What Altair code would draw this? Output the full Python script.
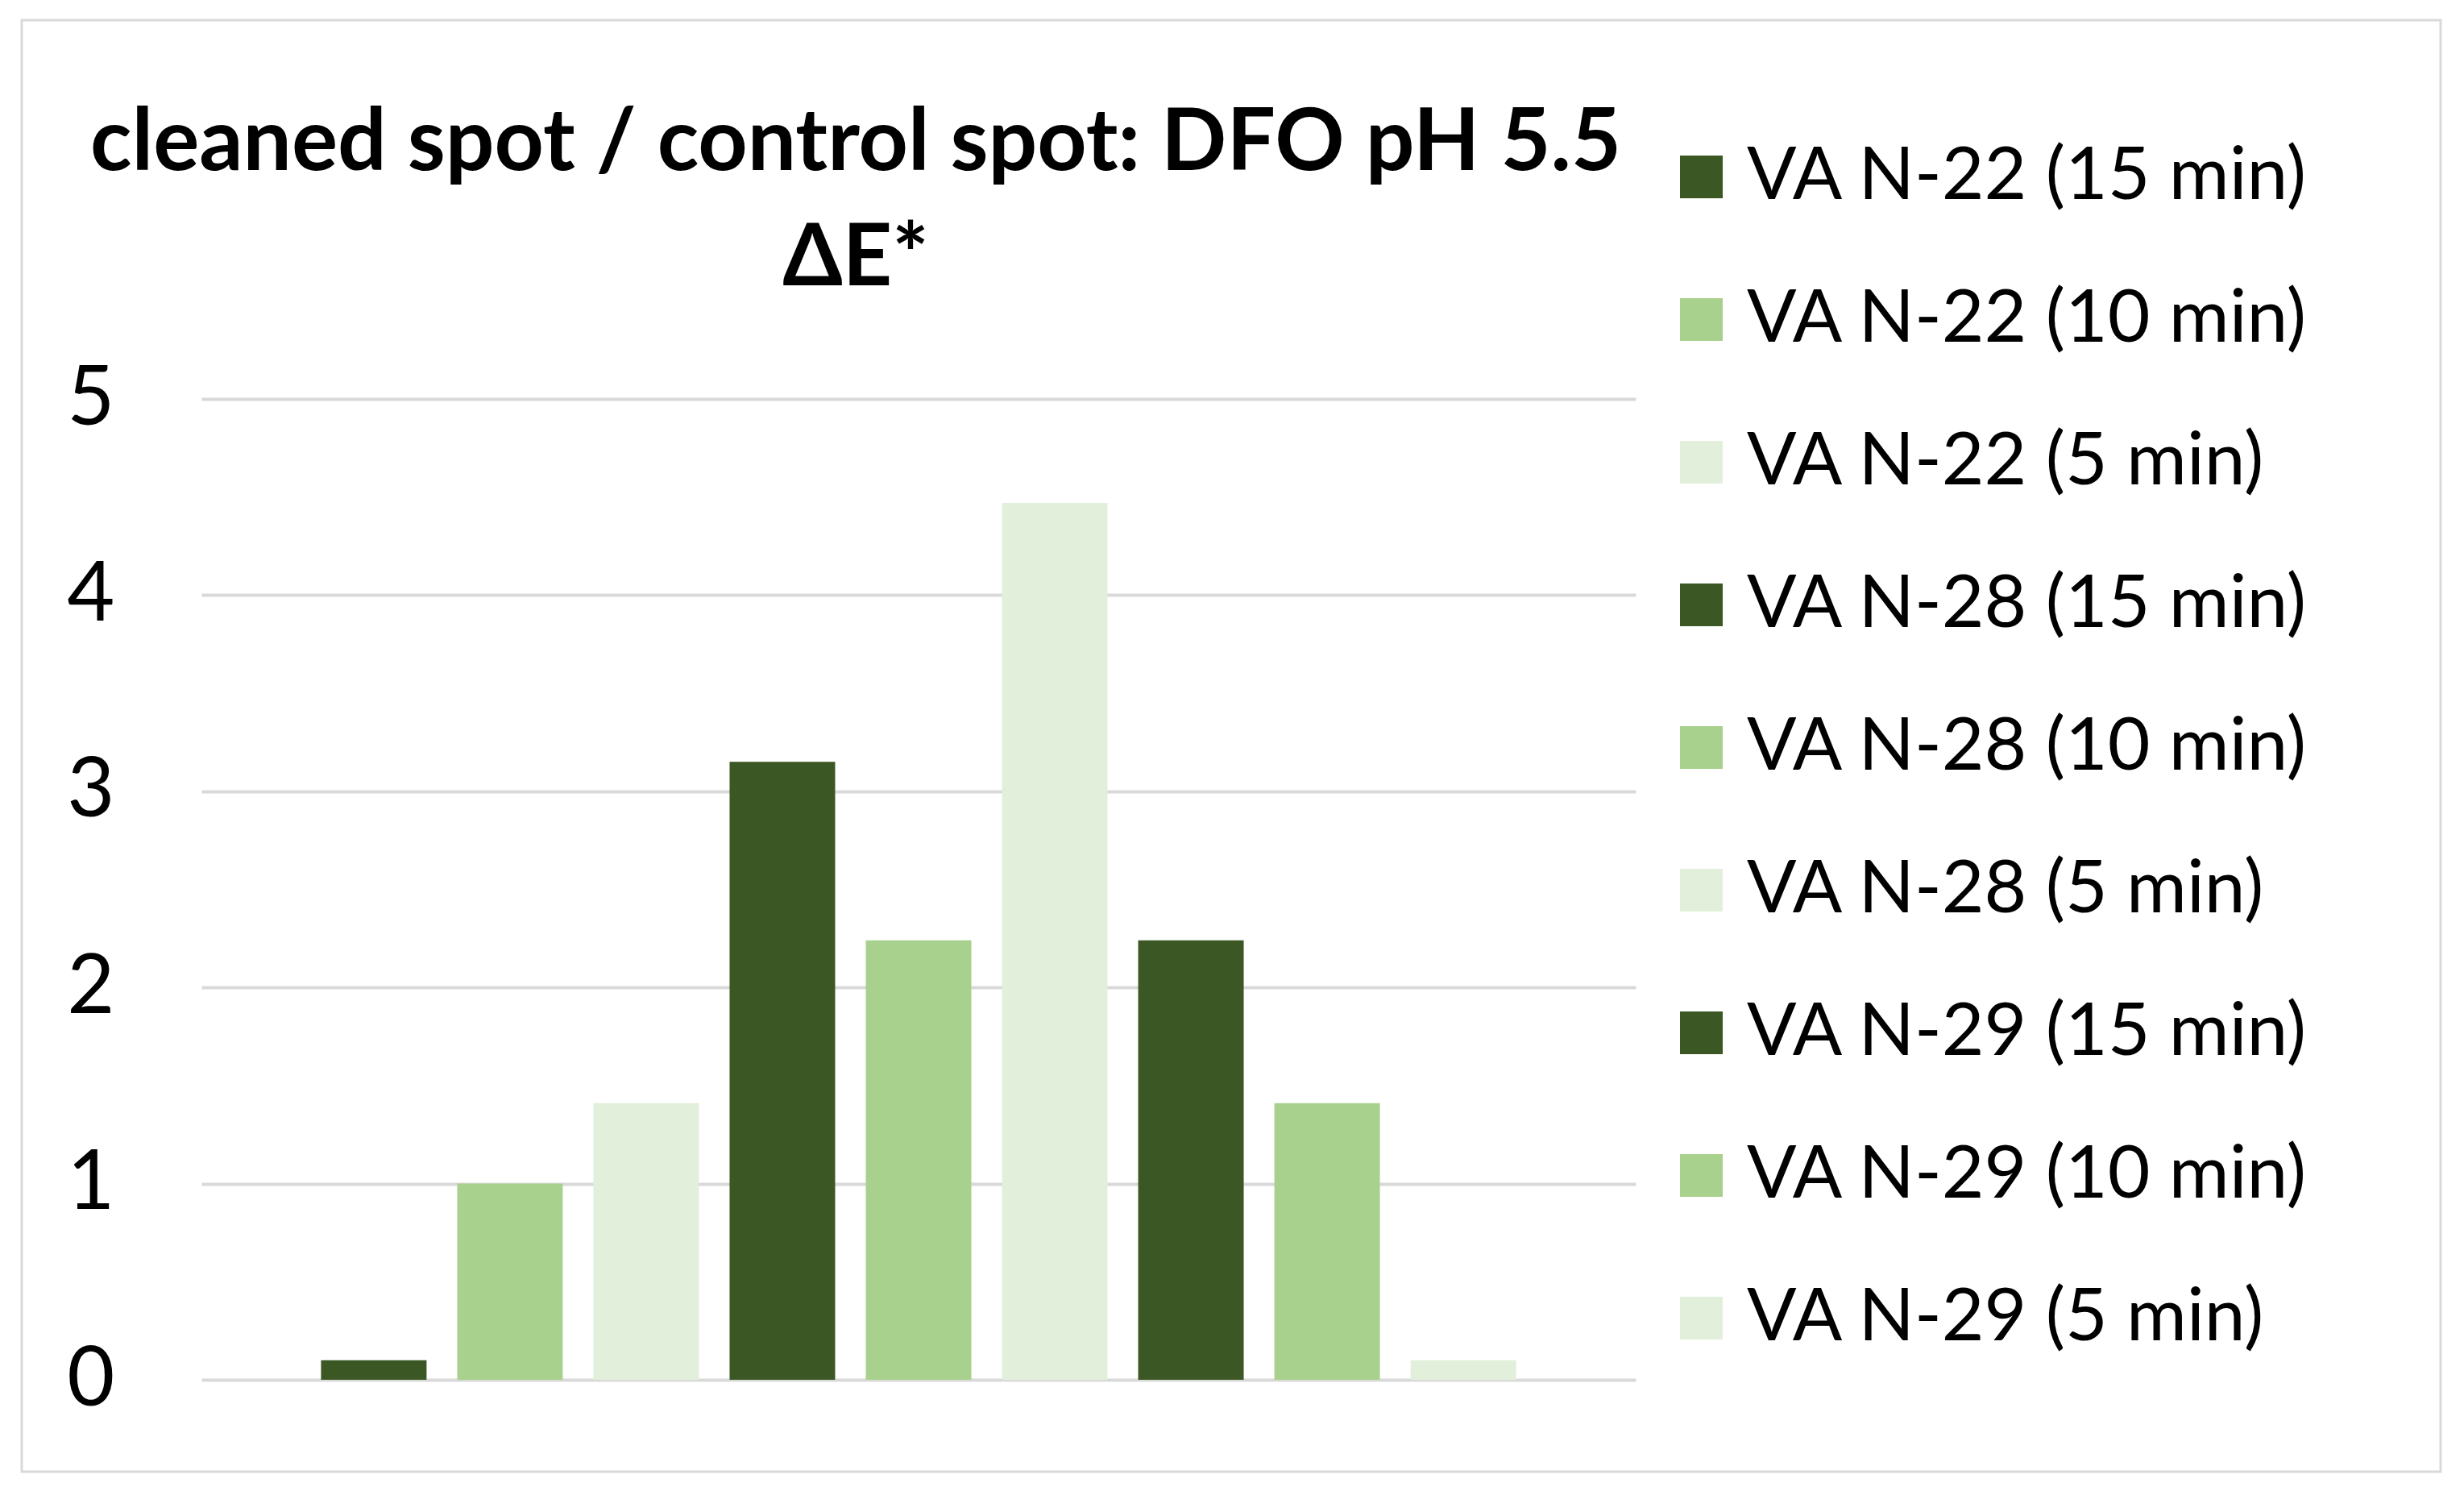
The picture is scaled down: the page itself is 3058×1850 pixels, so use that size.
import altair as alt
import pandas as pd

# ---- data ----
series = ["VA N-22 (15 min)", "VA N-22 (10 min)", "VA N-22 (5 min)",
          "VA N-28 (15 min)", "VA N-28 (10 min)", "VA N-28 (5 min)",
          "VA N-29 (15 min)", "VA N-29 (10 min)", "VA N-29 (5 min)"]
values = [0.1, 1.0, 1.41, 3.15, 2.24, 4.47, 2.24, 1.41, 0.1]
colors = ["#3b5723", "#a9d18e", "#e2efda",
          "#3b5723", "#a9d18e", "#e2efda",
          "#3b5723", "#a9d18e", "#e2efda"]
title_lines = ["cleaned spot / control spot: DFO pH 5.5", "ΔE*"]
y_ticks = [0, 1, 2, 3, 4, 5]

df = pd.DataFrame({"series": series, "value": values})

W, H = 1780, 1217
PAD_L, PAD_T = 242, 487
PAD_R = 3042 - PAD_L - W
PAD_B = 1834 - PAD_T - H
FONT = "Lato"

bars = alt.Chart(df).mark_bar().encode(
    x=alt.X("series:N", sort=series,
            scale=alt.Scale(paddingInner=0.225, paddingOuter=0.878),
            axis=None),
    y=alt.Y("value:Q",
            scale=alt.Scale(domain=[0, 5], nice=False),
            axis=alt.Axis(values=y_ticks, title=None, domain=False, ticks=False,
                          labelFontSize=102, labelFont=FONT, labelColor="#000000",
                          labelPadding=108, grid=True, gridColor="#d9d9d9",
                          gridWidth=4, format="d")),
    color=alt.Color("series:N", sort=series,
                    scale=alt.Scale(domain=series, range=colors),
                    legend=alt.Legend(title=None, orient="none",
                                      legendX=1816, legendY=-321,
                                      symbolType="square", symbolSize=2809,
                                      symbolStrokeWidth=0, labelFontSize=91,
                                      labelFont=FONT, labelColor="#000000",
                                      labelOffset=11, rowPadding=85,
                                      padding=0, labelLimit=2000)),
)

frame = alt.Chart(pd.DataFrame({"a": [0]})).mark_rect(
    fillOpacity=0, stroke="#d9d9d9", strokeWidth=3
).encode(
    x=alt.value(19 - PAD_L), x2=alt.value(3021 - PAD_L),
    y=alt.value(17 - PAD_T), y2=alt.value(1818 - PAD_T),
)

chart = alt.layer(frame, bars).properties(
    width=W, height=H,
    padding={"left": PAD_L, "top": PAD_T, "right": PAD_R, "bottom": PAD_B},
    autosize=alt.AutoSizeParams(type="none"),
    title=alt.TitleParams(text=title_lines, fontSize=107, font=FONT,
                          fontWeight="bold", color="#000000", anchor="middle",
                          frame="group", dx=-78, lineHeight=143, offset=0,
                          dy=352),
    background="white",
).configure_view(strokeWidth=0)

chart.save("out.html", embed_options={"renderer": "svg", "actions": False})
